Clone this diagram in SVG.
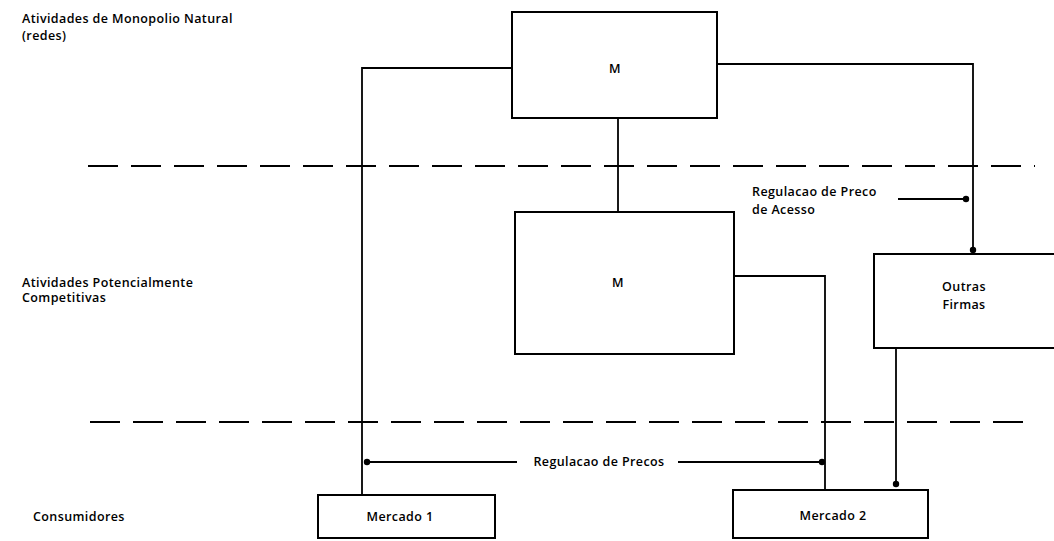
<svg xmlns="http://www.w3.org/2000/svg" width="1054" height="541" viewBox="0 0 1054 541">
<style>
.box{fill:#fff;stroke:#000;stroke-width:2}
.ln{fill:none;stroke:#000;stroke-width:1.8}
.dash{fill:none;stroke:#000;stroke-width:2;stroke-dasharray:30 13}
text{font-family:"Open Sans","Liberation Sans",sans-serif;font-size:12.5px;letter-spacing:0.4px;fill:#000;font-weight:600}
.c{text-anchor:middle}
</style>
<defs>
<marker id="dot" viewBox="0 0 8 8" refX="4" refY="4" markerWidth="8" markerHeight="8" markerUnits="userSpaceOnUse"><circle cx="4" cy="4" r="3.2" fill="#000"/></marker>
</defs>
<g id="labels">
<text x="22" y="23">Atividades de Monopolio Natural</text>
<text x="22" y="40">(redes)</text>
<text x="22" y="287">Atividades Potencialmente</text>
<text x="22" y="302">Competitivas</text>
<text x="33" y="521">Consumidores</text>
</g>
<g id="dashes">
<line class="dash" x1="88" y1="166" x2="1035" y2="166"/>
<line class="dash" x1="90" y1="422" x2="1035" y2="422"/>
</g>
<g id="connectors">
<polyline class="ln" points="512,68 362,68 362,494"/>
<polyline class="ln" points="717,64 973,64 973,250" marker-end="url(#dot)"/>
<line class="ln" x1="618" y1="118" x2="618" y2="212"/>
<polyline class="ln" points="734,276 825,276 825,490"/>
<line class="ln" x1="898" y1="199" x2="966" y2="199" marker-end="url(#dot)"/>
<line class="ln" x1="896" y1="348" x2="896" y2="484" marker-end="url(#dot)"/>
<line class="ln" x1="517" y1="462" x2="367" y2="462" marker-end="url(#dot)"/>
<line class="ln" x1="678" y1="462" x2="822" y2="462" marker-end="url(#dot)"/>
<text x="599" y="466" class="c">Regulacao de Precos</text>
<text x="752" y="196">Regulacao de Preco</text>
<text x="752" y="214">de Acesso</text>
</g>
<g id="M-redes">
<rect class="box" x="512" y="12" width="205" height="106"/>
<text x="615" y="73" class="c">M</text>
</g>
<g id="M-comp">
<rect class="box" x="515" y="212" width="219" height="142"/>
<text x="618" y="287" class="c">M</text>
</g>
<g id="outras-firmas">
<rect class="box" x="874" y="254" width="190" height="94"/>
<text x="964" y="291" class="c">Outras</text>
<text x="964" y="309" class="c">Firmas</text>
</g>
<g id="mercado1">
<rect class="box" x="318" y="495" width="177" height="43"/>
<text x="400" y="521" class="c">Mercado 1</text>
</g>
<g id="mercado2">
<rect class="box" x="733" y="490" width="195" height="48"/>
<text x="833" y="520" class="c">Mercado 2</text>
</g>
</svg>
